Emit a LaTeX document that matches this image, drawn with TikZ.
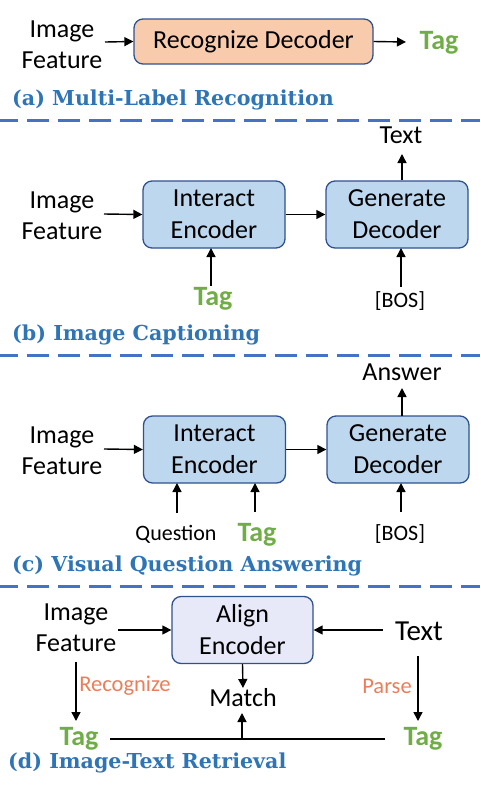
\documentclass[tikz,border=0pt]{standalone}
\usepackage{fontspec}
\setmainfont{Carlito}
\newfontfamily\titlefont{DejaVu Serif}
\usetikzlibrary{arrows.meta}
\definecolor{boxborder}{HTML}{2F528F}
\definecolor{peach}{HTML}{F8CBAD}
\definecolor{lightblue}{HTML}{BDD7EE}
\definecolor{lavender}{HTML}{E7E9F9}
\definecolor{taggreen}{HTML}{70AD47}
\definecolor{titleblue}{HTML}{2F75B5}
\definecolor{dashblue}{HTML}{4472C4}
\definecolor{orangetxt}{HTML}{ED7D59}
\tikzset{
  blk/.style={draw=boxborder, line width=1.3pt, rounded corners=9pt, align=center, inner sep=0pt, font=\fontsize{26}{32}\selectfont},
  txt/.style={align=center, inner sep=0pt, font=\fontsize{26}{31}\selectfont},
  smalltxt/.style={inner sep=0pt, font=\fontsize{22}{26}\selectfont},
  tagtxt/.style={inner sep=0pt, text=taggreen, font=\fontsize{28}{32}\selectfont\bfseries},
  ttl/.style={anchor=west, inner sep=0pt, text=titleblue, font=\titlefont\fontsize{20.6}{24}\selectfont\bfseries},
  sep/.style={draw=dashblue, line width=3pt, dash pattern=on 22pt off 9pt, dash phase=4pt},
  arr/.style={-{Triangle[length=9pt,width=9pt]}, line width=1.4pt},
  lbl/.style={inner sep=0pt, text=orangetxt, font=\fontsize{22.5}{26}\selectfont}
}
\begin{document}
\begin{tikzpicture}[x=1pt,y=-1pt]
\useasboundingbox (0,0) rectangle (480,788);
% (a)
\node[txt] (aimg) at (62,45) {Image\\Feature};
\node[blk, fill=peach, minimum width=239pt, minimum height=45pt] (rec) at (253.5,41.5) {Recognize Decoder};
\node[tagtxt] (atag) at (439,43) {Tag};
\draw[arr] (105,42) -- (rec.west);
\draw[arr] (rec.east) -- (406,42);
\node[ttl] (ta) at (12,100) {(a) Multi-Label Recognition};
\coordinate (s1l) at (0,120); \coordinate (s1r) at (480,120);
\draw[sep] (s1l) -- (s1r);
% (b)
\node[txt] (bimg) at (62,216) {Image\\Feature};
\node[blk, fill=lightblue, minimum width=142pt, minimum height=67pt] (bint) at (214,214.5) {Interact\\Encoder};
\node[blk, fill=lightblue, minimum width=142pt, minimum height=67pt] (bgen) at (397,214.5) {Generate\\Decoder};
\node[txt] (btext) at (401,135) {Text};
\node[tagtxt] (btag) at (213,299) {Tag};
\node[smalltxt] (bbos) at (400,301) {[BOS]};
\draw[arr] (104,214) -- (bint.west);
\draw[arr] (bint.east) -- (bgen.west);
\draw[arr] (bgen.north -| 402,0) -- (402,154);
\draw[arr] (211,286) -- (211,248);
\draw[arr] (401,287) -- (401,248);
\node[ttl] (tb) at (12,335) {(b) Image Captioning};
\coordinate (s2l) at (0,355); \coordinate (s2r) at (480,355);
\draw[sep] (s2l) -- (s2r);
% (c)
\node[txt] (cimg) at (62,451) {Image\\Feature};
\node[blk, fill=lightblue, minimum width=142pt, minimum height=67pt] (cint) at (214.5,449.5) {Interact\\Encoder};
\node[blk, fill=lightblue, minimum width=142pt, minimum height=67pt] (cgen) at (398,449.5) {Generate\\Decoder};
\node[txt] (cans) at (402,372) {Answer};
\node[smalltxt] (cq) at (176,534) {Question};
\node[tagtxt] (ctag) at (257,535) {Tag};
\node[smalltxt] (cbos) at (400,534) {[BOS]};
\draw[arr] (104,449) -- (cint.west);
\draw[arr] (cint.east) -- (cgen.west);
\draw[arr] (402,416) -- (402,388);
\draw[arr] (177,513) -- (177,483);
\draw[arr] (255,512) -- (255,483);
\draw[arr] (401,512) -- (401,483);
\node[ttl] (tc) at (12,566) {(c) Visual Question Answering};
\coordinate (s3l) at (0,586); \coordinate (s3r) at (480,586);
\draw[sep] (s3l) -- (s3r);
% (d)
\node[txt] (dimg) at (76,628) {Image\\Feature};
\node[blk, fill=lavender, minimum width=141pt, minimum height=67pt] (align) at (242.5,630) {Align\\Encoder};
\node[inner sep=0pt, font=\fontsize{29}{34}\selectfont] (dtext) at (419,631) {Text};
\node[txt] (match) at (243,698) {Match};
\node[tagtxt] (dtagl) at (79,739) {Tag};
\node[tagtxt] (dtagr) at (423,739) {Tag};
\node[lbl] (lrec) at (125,686) {Recognize};
\node[lbl] (lpar) at (387,686) {Parse};
\draw[arr] (118,630) -- (align.west);
\draw[arr] (383,630) -- (align.east);
\draw[arr] (align.south) -- (243,688);
\draw[arr] (76,662) -- (76,721);
\draw[arr] (418,656) -- (418,721);
\coordinate (ml) at (110,739); \coordinate (mr) at (385,739);
\draw[line width=1.4pt] (ml) -- (mr);
\draw[arr] (242,739) -- (242,713);
\node[ttl] (td) at (8,763) {(d) Image-Text Retrieval};
\end{tikzpicture}
\end{document}
